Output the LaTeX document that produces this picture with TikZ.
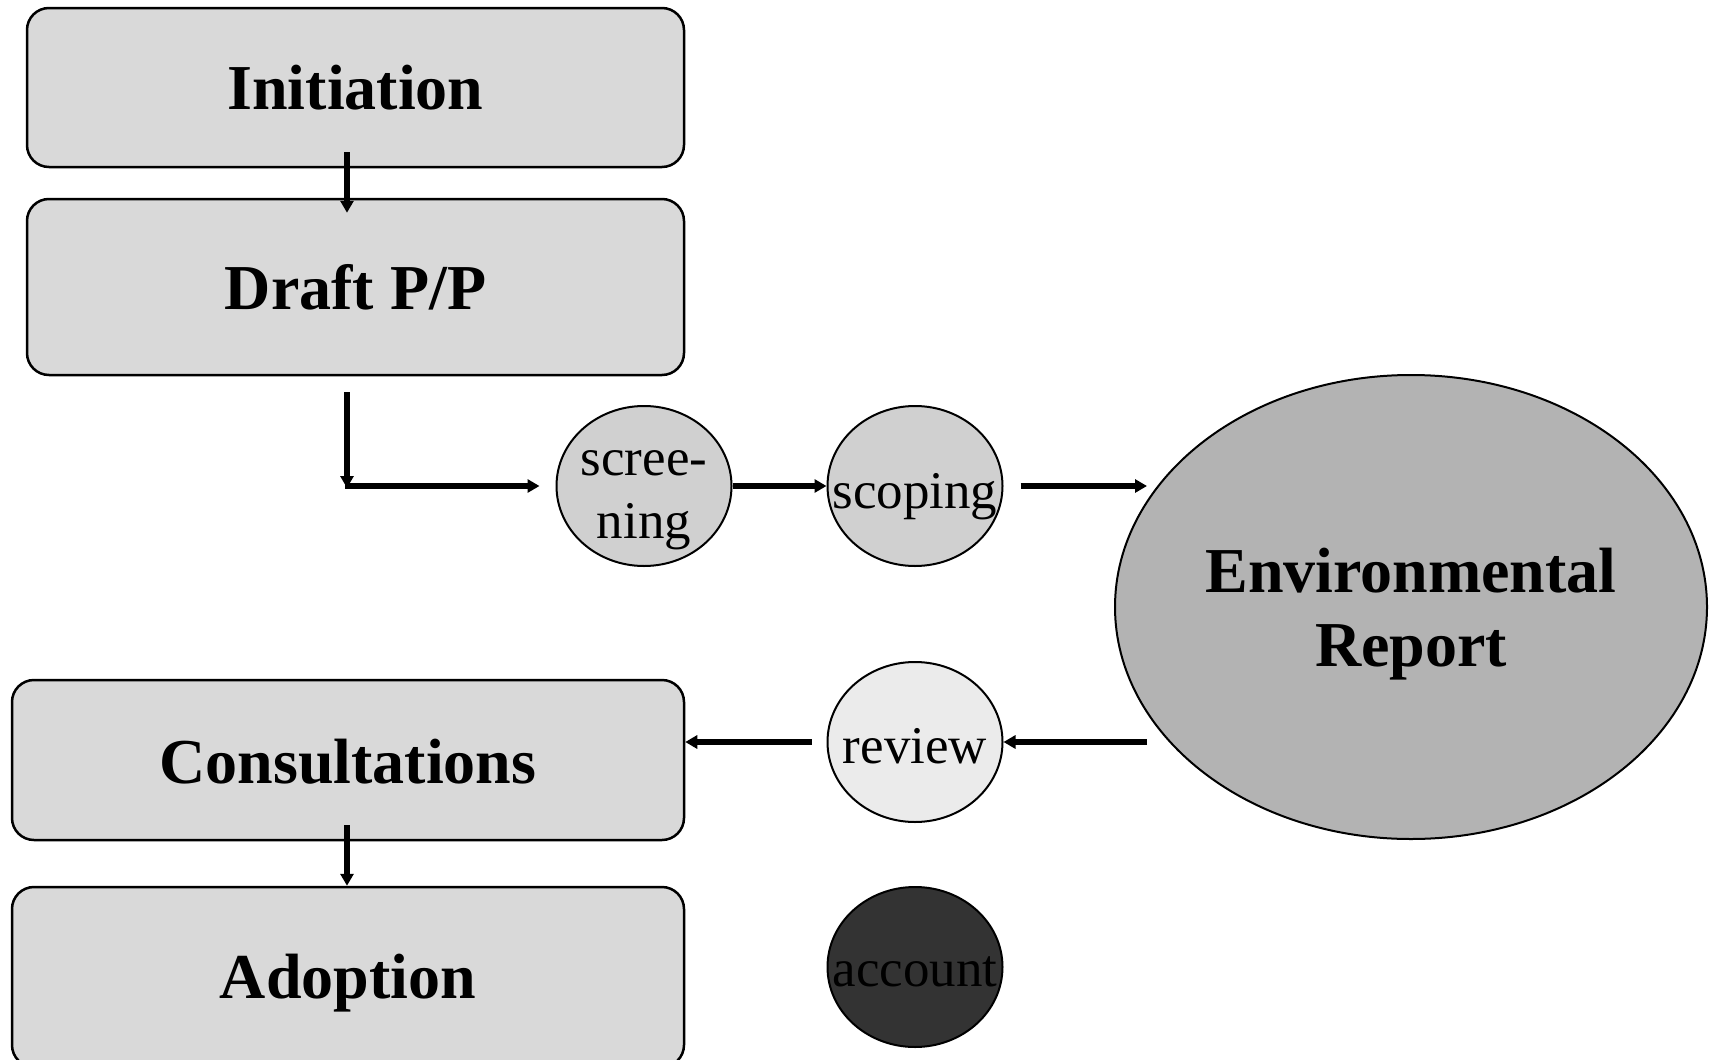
\documentclass[tikz,border=0pt]{standalone}
\usepackage{fontspec}
\setmainfont{Liberation Serif}
\usetikzlibrary{shapes.geometric,arrows.meta}
\definecolor{boxgray}{HTML}{D9D9D9}
\definecolor{bubgray}{HTML}{D0D0D0}
\definecolor{envgray}{HTML}{B3B3B3}
\definecolor{revgray}{HTML}{EBEBEB}
\definecolor{accgray}{HTML}{333333}
\begin{document}
\begin{tikzpicture}[x=1pt,y=-1pt,
  stage/.style={draw, line width=2.5pt, fill=boxgray, rounded corners=22pt,
    font=\fontsize{64}{74}\selectfont\bfseries, inner sep=0pt},
  bubble/.style={ellipse, draw, line width=2pt, inner sep=0pt,
    minimum width=175pt, minimum height=160pt},
  bubtext/.style={font=\fontsize{53}{63}\selectfont, align=center, inner sep=0pt},
  envtext/.style={font=\fontsize{64}{74}\selectfont\bfseries, align=center, inner sep=0pt},
  arr/.style={line width=5.5pt, -{Triangle[length=12pt,width=13pt]}}]
\useasboundingbox (0,0) rectangle (1714,1060);

\node[stage, minimum width=657pt, minimum height=159pt] (init) at (355.5,87.5) {Initiation};
\node[stage, minimum width=657pt, minimum height=176pt] (draft) at (355.5,287) {Draft P/P};
\node[stage, minimum width=672pt, minimum height=160pt] (cons) at (348,760) {\raisebox{-2pt}[\height][\depth]{Consultations}};
\node[stage, minimum width=672pt, minimum height=180pt] (adopt) at (348,977) {\raisebox{-6pt}[\height][\depth]{Adoption}};

\node[bubble, fill=bubgray, label={[bubtext, yshift=-14pt]center:scree-\\ning}] (screen) at (644,486) {};
\node[bubble, fill=bubgray, label={[bubtext, yshift=-11pt]center:scoping}] (scope) at (915,486) {};
\node[bubble, fill=revgray, label={[bubtext, yshift=-4pt]center:review}] (review) at (915,742) {};
\node[bubble, fill=accgray, label={[bubtext, yshift=-5pt]center:account}] (account) at (915,967) {};
\node[ellipse, draw, line width=2pt, inner sep=0pt, fill=envgray,
  minimum width=592pt, minimum height=464pt,
  label={[envtext, yshift=-7pt]center:Environmental\\Report}] (env) at (1411,607) {};

\coordinate (corner) at (347,486);

\draw[arr] ([xshift=-8.5pt,yshift=16pt]init.south) -- ([xshift=-8.5pt,yshift=-15pt]draft.north);
\draw[arr] ([xshift=-8.5pt,yshift=-16pt]draft.south) -- ([yshift=-2pt]corner);
\draw[arr] ([xshift=-2.5pt]corner) -- ([xshift=-16pt]screen.west);
\draw[arr] (screen.east) -- (scope.west);
\draw[arr] ([xshift=17pt]scope.east) -- ([xshift=33pt]env.west |- scope.east);
\draw[arr] ([xshift=33pt]env.west |- review.east) -- (review.east);
\draw[arr] ([xshift=-15pt]review.west) -- (cons.east |- review.west);
\draw[arr] ([xshift=-1pt,yshift=16pt]cons.south) -- ([xshift=-1pt]adopt.north);
\end{tikzpicture}
\end{document}
